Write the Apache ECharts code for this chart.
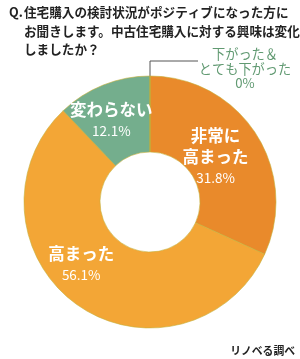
<!DOCTYPE html>
<html><head><meta charset="utf-8">
<script src="https://cdn.jsdelivr.net/npm/echarts@6/dist/echarts.min.js"></script>
<style>html,body{margin:0;padding:0;background:#fff;}#c{width:300px;height:359px;}</style>
</head><body><div id="c"></div>
<script>
const titlePrefix = 'Q.';
const titleLines = ['住宅購入の検討状況がポジティブになった方に', 'お聞きします。中古住宅購入に対する興味は変化', 'しましたか？'];
const categories = ['非常に\n高まった', '高まった', '変わらない', '下がった＆\nとても下がった'];
const values = [31.8, 56.1, 12.1, 0];
const colors = ['#E98A2B', '#F3A636', '#74AE8D', '#74AE8D'];
const source = 'リノベる調べ';
const F = '"Noto Sans CJK JP","Noto Sans",sans-serif';
const chart = echarts.init(document.getElementById('c'));
const data = values.map((v, i) => {
  const d = { name: categories[i], value: v, itemStyle: { color: colors[i] } };
  if (i === 1) d.label = { offset: [-16, -12] };
  if (i === 0) d.label = { offset: [-11, 4] };
  if (i === 2) d.label = { offset: [-5, 3] };
  if (v === 0) d.label = { show: false };
  return d;
});
const tStyle = { fontFamily: F, fontSize: 12.6, fontWeight: 'bold', fill: '#222' };
const graphics = [
  { type: 'text', x: 9, y: 6, style: Object.assign({ text: titlePrefix }, tStyle) }
];
titleLines.forEach((t, i) => graphics.push({ type: 'text', x: 24, y: 6 + i * 18.5, style: Object.assign({ text: t }, tStyle) }));
graphics.push(
  { type: 'polyline', shape: { points: [[150, 92], [150, 61], [198, 61]] }, style: { stroke: '#555', lineWidth: 1, fill: null } },
  { type: 'text', x: 245, y: 47, style: { text: categories[3] + '\n' + values[3] + '%', fontFamily: F, fontSize: 13.2, fill: '#619A72', align: 'center', lineHeight: 14.5 } },
  { type: 'text', right: 5, bottom: 3, style: { text: source, fontFamily: F, fontSize: 10.8, fontWeight: 'bold', fill: '#222' } }
);
chart.setOption({
  animation: false,
  graphic: graphics,
  series: [{
    type: 'pie', center: [150, 202], radius: [50, 126], startAngle: 90, clockwise: true,
    avoidLabelOverlap: false, stillShowZeroSum: true,
    itemStyle: { borderColor: '#C4B03A', borderWidth: 0.6 },
    label: {
      show: true, position: 'inside', fontFamily: F,
      formatter: p => '{n|' + p.name + '}\n{v|' + p.value + '%}',
      rich: {
        n: { fontSize: 16.5, fontWeight: 'bold', color: '#fff', lineHeight: 21, align: 'center', fontFamily: F },
        v: { fontSize: 13.5, color: '#fff', lineHeight: 21, align: 'center', fontFamily: F }
      }
    },
    labelLine: { show: false },
    data: data
  }]
});
</script></body></html>
